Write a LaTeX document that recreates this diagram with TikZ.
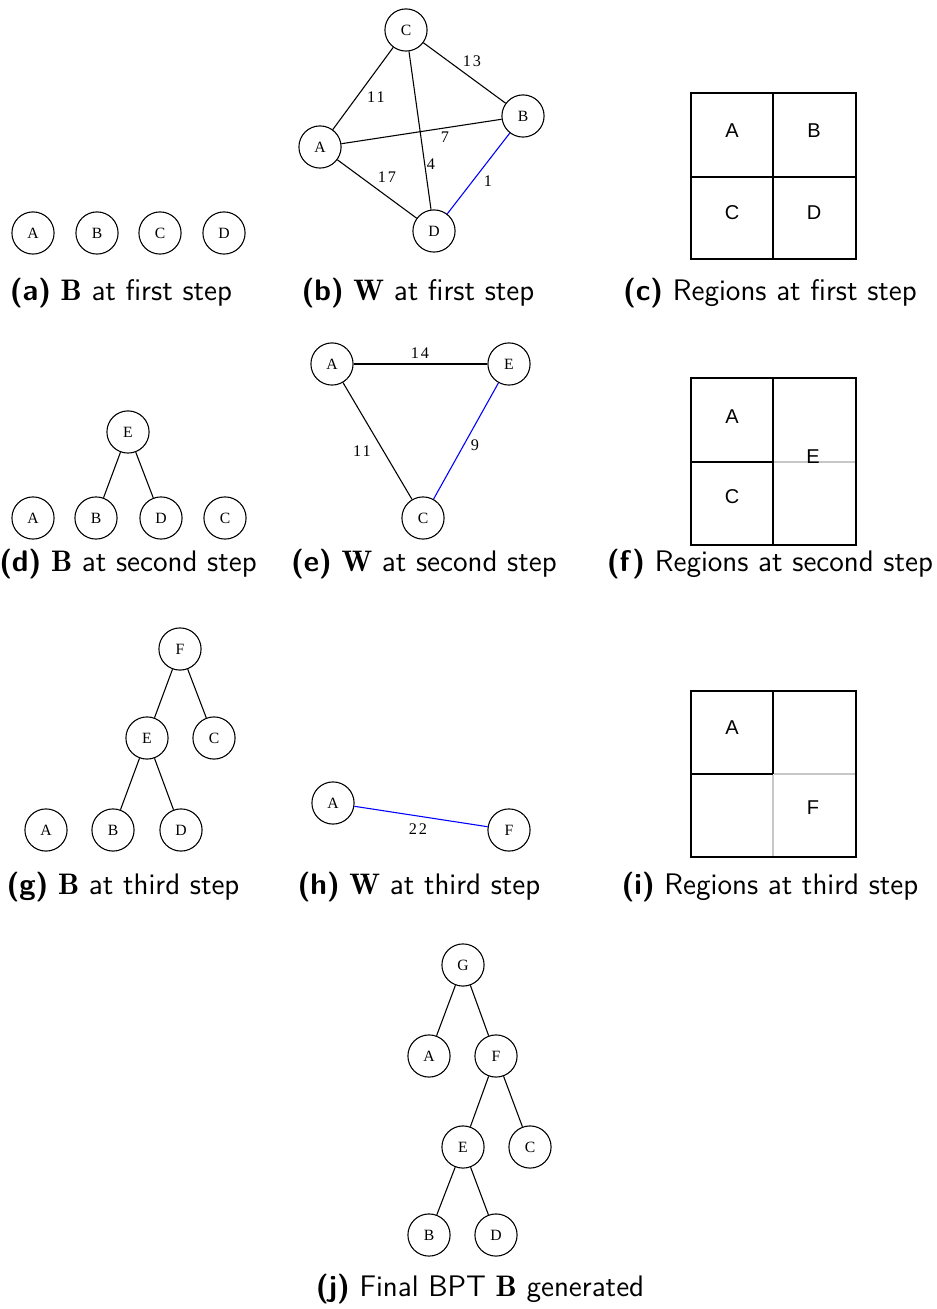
\documentclass[tikz,border=0pt]{standalone}
\usepackage{amsmath}
\usepackage{fontspec}
\newfontfamily\vtxfont{Liberation Serif}
\newfontfamily\wfont[LetterSpace=12]{Liberation Serif}
\newfontfamily\regfont{Liberation Sans}
\usetikzlibrary{positioning}

\tikzset{
  vtx/.style={draw, circle, line width=0.4pt, minimum size=15.6pt, inner sep=0pt,
    font=\vtxfont\fontsize{5.8}{6}\selectfont},
  wlabel/.style={inner sep=0pt, font=\wfont\fontsize{6}{7}\selectfont},
  edge/.style={line width=0.4pt},
  picked/.style={edge, blue},
  region/.style={inner sep=0pt, font=\regfont\fontsize{7.4}{8}\selectfont},
  wall/.style={line width=0.9pt},
  ghost/.style={line width=0.6pt, black!22},
  subcap/.style={anchor=base, inner sep=0pt, font=\sffamily\fontsize{11}{13}\selectfont}
}

\begin{document}
\begin{tikzpicture}[x=0.37pt, y=-0.37pt]
\useasboundingbox (0,0) rectangle (936,1309);

% --- first step
\node[vtx] (aA) at (33,233) {A};
\node[vtx] (aB) at (97,233) {B};
\node[vtx] (aC) at (160,233) {C};
\node[vtx] (aD) at (224,233) {D};

\node[vtx] (bC) at (406,30) {C};
\node[vtx] (bB) at (523,116) {B};
\node[vtx] (bA) at (320,147) {A};
\node[vtx] (bD) at (434,231) {D};

\draw[edge] (bA) -- (bC);
\draw[edge] (bC) -- (bB);
\draw[edge] (bC) -- (bD);
\draw[edge] (bA) -- (bB);
\draw[edge] (bA) -- (bD);
\draw[picked] (bB) -- (bD);

\node[wlabel] (w13) at (472,61) {13};
\node[wlabel] (w11) at (376,97) {11};
\node[wlabel] (w7) at (445,137) {7};
\node[wlabel] (w4) at (431,164) {4};
\node[wlabel] (w17) at (387,177) {17};
\node[wlabel] (w1) at (488,181) {1};

\draw[wall] (691,93) rectangle (856,259);
\draw[wall] (773,93) -- (773,259);
\draw[wall] (691,177) -- (856,177);
\node[region] (cA) at (732,131) {A};
\node[region] (cB) at (814,131) {B};
\node[region] (cC) at (732,213) {C};
\node[region] (cD) at (814,213) {D};

\node[subcap] (capa) at (121,301) {\textbf{(a)} $\mathbf{B}$ at first step};
\node[subcap] (capb) at (418,301) {\textbf{(b)} $\mathbf{W}$ at first step};
\node[subcap] (capc) at (770,301) {\textbf{(c)} Regions at first step};

% --- second step
\node[vtx] (dE) at (128,432) {E};
\node[vtx] (dA) at (33,518) {A};
\node[vtx] (dB) at (96,518) {B};
\node[vtx] (dD) at (161,518) {D};
\node[vtx] (dC) at (225,518) {C};
\draw[edge] (dE) -- (dB);
\draw[edge] (dE) -- (dD);

\node[vtx] (eA) at (332,364) {A};
\node[vtx] (eE) at (509,364) {E};
\node[vtx] (eC) at (423,518) {C};
\draw[edge] (eA) -- (eE);
\draw[edge] (eA) -- (eC);
\draw[picked] (eE) -- (eC);
\node[wlabel] (w14) at (420,353) {14};
\node[wlabel] (w11b) at (362,451) {11};
\node[wlabel] (w9) at (475,445) {9};

\draw[wall] (691,378) rectangle (856,545);
\draw[wall] (773,378) -- (773,545);
\draw[wall] (691,462) -- (773,462);
\draw[ghost] (774,462) -- (855,462);
\node[region] (fA) at (732,417) {A};
\node[region] (fC) at (732,497) {C};
\node[region] (fE) at (813,457) {E};

\node[subcap] (capd) at (128,571) {\textbf{(d)} $\mathbf{B}$ at second step};
\node[subcap] (cape) at (424,571) {\textbf{(e)} $\mathbf{W}$ at second step};
\node[subcap] (capf) at (770,571) {\textbf{(f)} Regions at second step};

% --- third step
\node[vtx] (gF) at (180,649) {F};
\node[vtx] (gE) at (147,738) {E};
\node[vtx] (gC) at (214,738) {C};
\node[vtx] (gA) at (46,830) {A};
\node[vtx] (gB) at (113,830) {B};
\node[vtx] (gD) at (181,830) {D};
\draw[edge] (gF) -- (gE);
\draw[edge] (gF) -- (gC);
\draw[edge] (gE) -- (gB);
\draw[edge] (gE) -- (gD);

\node[vtx] (hA) at (333,803) {A};
\node[vtx] (hF) at (509,830) {F};
\draw[picked] (hA) -- (hF);
\node[wlabel] (w22) at (418,829) {22};

\draw[wall] (691,691) rectangle (856,857);
\draw[wall] (773,691) -- (773,774);
\draw[wall] (691,774) -- (773,774);
\draw[ghost] (774,774) -- (855,774);
\draw[ghost] (773,775) -- (773,856);
\node[region] (iA) at (732,728) {A};
\node[region] (iF) at (813,808) {F};

\node[subcap] (capg) at (123,894) {\textbf{(g)} $\mathbf{B}$ at third step};
\node[subcap] (caph) at (419,894) {\textbf{(h)} $\mathbf{W}$ at third step};
\node[subcap] (capi) at (770,894) {\textbf{(i)} Regions at third step};

% --- final tree
\node[vtx] (jG) at (463,965) {G};
\node[vtx] (jA) at (429,1056) {A};
\node[vtx] (jF) at (496,1056) {F};
\node[vtx] (jE) at (463,1147) {E};
\node[vtx] (jC) at (530,1147) {C};
\node[vtx] (jB) at (429,1235) {B};
\node[vtx] (jD) at (496,1235) {D};
\draw[edge] (jG) -- (jA);
\draw[edge] (jG) -- (jF);
\draw[edge] (jF) -- (jE);
\draw[edge] (jF) -- (jC);
\draw[edge] (jE) -- (jB);
\draw[edge] (jE) -- (jD);

\node[subcap] (capj) at (480,1296) {\textbf{(j)} Final BPT $\mathbf{B}$ generated};

\end{tikzpicture}
\end{document}
